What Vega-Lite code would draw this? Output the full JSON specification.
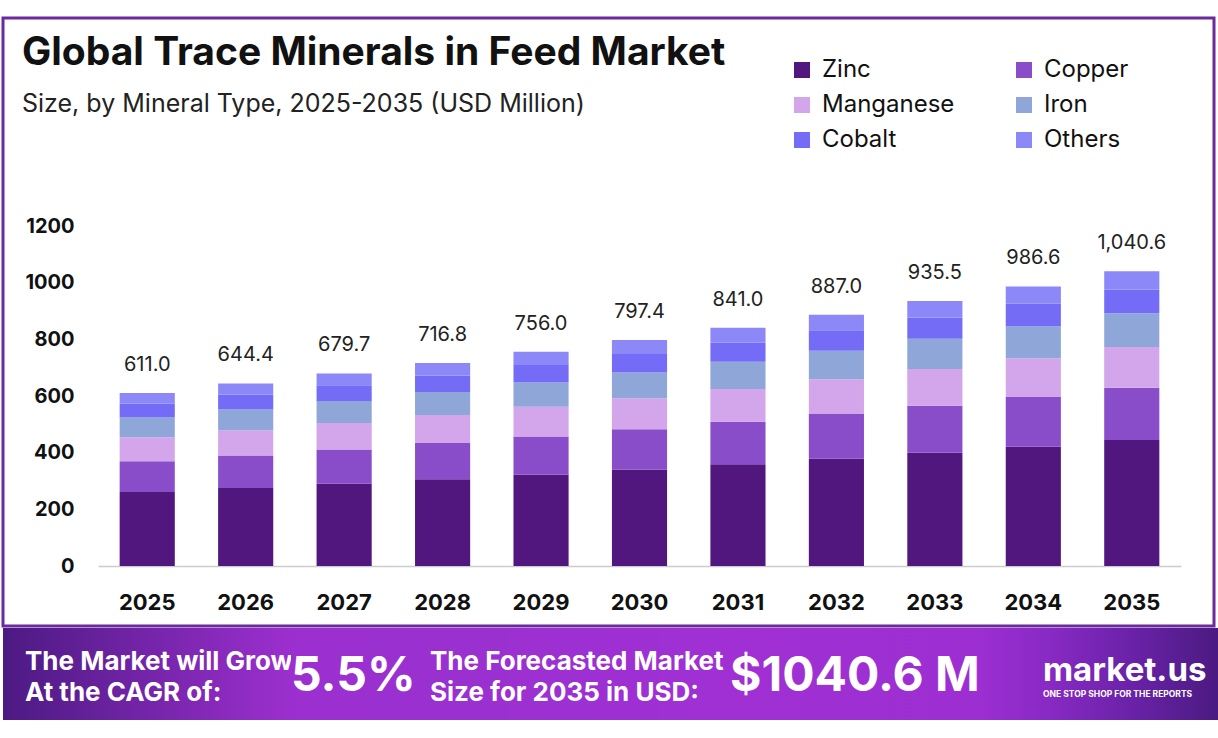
{
  "$schema": "https://vega.github.io/schema/vega-lite/v6.json",
  "background": "white",
  "padding": {"left": 1, "top": 16, "right": 0, "bottom": 0},
  "bounds": "flush",
  "spacing": 2,
  "datasets": {
    "segments": [
      {"year": "2025", "mineral": "Zinc", "value": 260.9},
      {"year": "2025", "mineral": "Copper", "value": 108.8},
      {"year": "2025", "mineral": "Manganese", "value": 84.3},
      {"year": "2025", "mineral": "Iron", "value": 69.7},
      {"year": "2025", "mineral": "Cobalt", "value": 49.5},
      {"year": "2025", "mineral": "Others", "value": 37.8},
      {"year": "2026", "mineral": "Zinc", "value": 275.2},
      {"year": "2026", "mineral": "Copper", "value": 114.7},
      {"year": "2026", "mineral": "Manganese", "value": 88.9},
      {"year": "2026", "mineral": "Iron", "value": 73.5},
      {"year": "2026", "mineral": "Cobalt", "value": 52.2},
      {"year": "2026", "mineral": "Others", "value": 39.9},
      {"year": "2027", "mineral": "Zinc", "value": 290.2},
      {"year": "2027", "mineral": "Copper", "value": 121.0},
      {"year": "2027", "mineral": "Manganese", "value": 93.8},
      {"year": "2027", "mineral": "Iron", "value": 77.5},
      {"year": "2027", "mineral": "Cobalt", "value": 55.1},
      {"year": "2027", "mineral": "Others", "value": 42.1},
      {"year": "2028", "mineral": "Zinc", "value": 306.1},
      {"year": "2028", "mineral": "Copper", "value": 127.6},
      {"year": "2028", "mineral": "Manganese", "value": 98.9},
      {"year": "2028", "mineral": "Iron", "value": 81.7},
      {"year": "2028", "mineral": "Cobalt", "value": 58.1},
      {"year": "2028", "mineral": "Others", "value": 44.4},
      {"year": "2029", "mineral": "Zinc", "value": 322.8},
      {"year": "2029", "mineral": "Copper", "value": 134.6},
      {"year": "2029", "mineral": "Manganese", "value": 104.3},
      {"year": "2029", "mineral": "Iron", "value": 86.2},
      {"year": "2029", "mineral": "Cobalt", "value": 61.2},
      {"year": "2029", "mineral": "Others", "value": 46.9},
      {"year": "2030", "mineral": "Zinc", "value": 340.5},
      {"year": "2030", "mineral": "Copper", "value": 141.9},
      {"year": "2030", "mineral": "Manganese", "value": 110.0},
      {"year": "2030", "mineral": "Iron", "value": 90.9},
      {"year": "2030", "mineral": "Cobalt", "value": 64.6},
      {"year": "2030", "mineral": "Others", "value": 49.5},
      {"year": "2031", "mineral": "Zinc", "value": 359.1},
      {"year": "2031", "mineral": "Copper", "value": 149.7},
      {"year": "2031", "mineral": "Manganese", "value": 116.1},
      {"year": "2031", "mineral": "Iron", "value": 95.9},
      {"year": "2031", "mineral": "Cobalt", "value": 68.1},
      {"year": "2031", "mineral": "Others", "value": 52.1},
      {"year": "2032", "mineral": "Zinc", "value": 378.7},
      {"year": "2032", "mineral": "Copper", "value": 157.9},
      {"year": "2032", "mineral": "Manganese", "value": 122.4},
      {"year": "2032", "mineral": "Iron", "value": 101.1},
      {"year": "2032", "mineral": "Cobalt", "value": 71.8},
      {"year": "2032", "mineral": "Others", "value": 55.1},
      {"year": "2033", "mineral": "Zinc", "value": 399.5},
      {"year": "2033", "mineral": "Copper", "value": 166.5},
      {"year": "2033", "mineral": "Manganese", "value": 129.1},
      {"year": "2033", "mineral": "Iron", "value": 106.6},
      {"year": "2033", "mineral": "Cobalt", "value": 75.8},
      {"year": "2033", "mineral": "Others", "value": 58.0},
      {"year": "2034", "mineral": "Zinc", "value": 421.3},
      {"year": "2034", "mineral": "Copper", "value": 175.6},
      {"year": "2034", "mineral": "Manganese", "value": 136.2},
      {"year": "2034", "mineral": "Iron", "value": 112.5},
      {"year": "2034", "mineral": "Cobalt", "value": 79.9},
      {"year": "2034", "mineral": "Others", "value": 61.1},
      {"year": "2035", "mineral": "Zinc", "value": 444.3},
      {"year": "2035", "mineral": "Copper", "value": 185.2},
      {"year": "2035", "mineral": "Manganese", "value": 143.6},
      {"year": "2035", "mineral": "Iron", "value": 118.6},
      {"year": "2035", "mineral": "Cobalt", "value": 84.3},
      {"year": "2035", "mineral": "Others", "value": 64.6}
    ],
    "totals": [
      {"year": "2025", "total": 611.0},
      {"year": "2026", "total": 644.4},
      {"year": "2027", "total": 679.7},
      {"year": "2028", "total": 716.8},
      {"year": "2029", "total": 756.0},
      {"year": "2030", "total": 797.4},
      {"year": "2031", "total": 841.0},
      {"year": "2032", "total": 887.0},
      {"year": "2033", "total": 935.5},
      {"year": "2034", "total": 986.6},
      {"year": "2035", "total": 1040.6}
    ],
    "footer": [
      {"part": "grow", "line": "grow", "text": ["The Market will Grow", "At the CAGR of:"]},
      {"part": "cagr", "line": "cagr", "text": "5.5%"},
      {"part": "fore", "line": "fore", "text": ["The Forecasted Market", "Size for 2035 in USD:"]},
      {"part": "size", "line": "size", "text": "$1040.6 M"},
      {"part": "logo", "line": "brand", "text": "market.us"},
      {"part": "logo", "line": "tag", "text": "ONE STOP SHOP FOR THE REPORTS"}
    ]
  },
  "vconcat": [
    {
      "width": 1211,
      "height": 608,
      "view": {"stroke": "#6c2b9d", "strokeWidth": 3, "fill": "white"},
      "title": {
        "text": "Global Trace Minerals in Feed Market",
        "subtitle": "Size, by Mineral Type, 2025-2035 (USD Million)",
        "anchor": "start",
        "frame": "group",
        "orient": "top",
        "offset": -99,
        "dx": 19,
        "font": "Inter",
        "fontSize": 39,
        "fontWeight": "bold",
        "color": "#111111",
        "subtitleFont": "Inter",
        "subtitleFontSize": 25,
        "subtitleColor": "#222222",
        "subtitlePadding": 19
      },
      "layer": [
        {
          "data": {"name": "segments"},
          "mark": {"type": "bar"},
          "encoding": {
            "x": {
              "field": "year",
              "type": "ordinal",
              "scale": {"range": [95, 1178], "paddingInner": 0.44, "paddingOuter": 0.22},
              "axis": {
                "title": null,
                "orient": "bottom",
                "offset": -60,
                "labelPadding": 26,
                "ticks": false,
                "labelAngle": 0,
                "domainColor": "#cccccc",
                "domainWidth": 1.5,
                "labelFont": "Inter",
                "labelFontSize": 22,
                "labelFontWeight": "bold",
                "labelColor": "#111111"
              }
            },
            "y": {
              "field": "value",
              "type": "quantitative",
              "stack": "zero",
              "scale": {"domain": [0, 1200], "range": [548, 208], "nice": false},
              "axis": {
                "title": null,
                "values": [0, 200, 400, 600, 800, 1000, 1200],
                "format": "d",
                "grid": false,
                "domain": false,
                "ticks": false,
                "offset": -76,
                "labelPadding": 5,
                "labelFont": "Inter",
                "labelFontSize": 20,
                "labelFontWeight": "bold",
                "labelColor": "#111111"
              }
            },
            "color": {
              "field": "mineral",
              "type": "nominal",
              "scale": {
                "domain": ["Zinc", "Manganese", "Cobalt", "Copper", "Iron", "Others"],
                "range": ["#52177f", "#d3a5ea", "#746cf7", "#8a4dca", "#8fa6d8", "#8d88f8"]
              },
              "legend": {
                "title": null,
                "orient": "none",
                "legendX": 787,
                "legendY": 40,
                "columns": 2,
                "columnPadding": 57,
                "rowPadding": 11,
                "symbolType": "square",
                "symbolSize": 256,
                "symbolStrokeWidth": 0,
                "labelOffset": 8,
                "labelFont": "Inter",
                "labelFontSize": 24,
                "labelColor": "#111111"
              }
            },
            "order": {"field": "value", "type": "quantitative", "sort": "descending"}
          }
        },
        {
          "data": {"name": "totals"},
          "mark": {"type": "text", "baseline": "bottom", "dy": -18, "font": "Inter", "fontSize": 20, "color": "#222222"},
          "encoding": {
            "x": {"field": "year", "type": "ordinal", "axis": {"title": null}},
            "y": {"field": "total", "type": "quantitative", "axis": {"title": null}},
            "text": {"field": "total", "type": "quantitative", "format": ",.1f"}
          }
        }
      ]
    },
    {
      "spacing": 0,
      "bounds": "flush",
      "hconcat": [
        {
          "width": 288,
          "height": 92,
          "view": {"fill": {"gradient": "linear", "x1": 0, "y1": 0, "x2": 1, "y2": 0, "stops": [{"offset": 0, "color": "#4c1a82"}, {"offset": 1, "color": "#9c2fcf"}]}},
          "data": {"name": "footer"},
          "transform": [{"filter": "datum.line === 'grow'"}],
          "mark": {"type": "text", "align": "left", "baseline": "middle", "dy": -12, "font": "Inter", "fontSize": 26, "fontWeight": "bold", "lineHeight": 31, "color": "white"},
          "encoding": {
            "x": {"field": "part", "type": "nominal", "bandPosition": 0, "scale": {"type": "band", "paddingInner": 0, "paddingOuter": 0.09}, "axis": null},
            "text": {"field": "text"}
          }
        },
        {
          "width": 139,
          "height": 92,
          "view": {"fill": {"gradient": "linear", "x1": 0, "y1": 0, "x2": 1, "y2": 0, "stops": [{"offset": 0, "color": "#9c2fcf"}, {"offset": 1, "color": "#9a30d0"}]}},
          "data": {"name": "footer"},
          "transform": [{"filter": "datum.line === 'cagr'"}],
          "mark": {"type": "text", "align": "left", "baseline": "middle", "dy": 3, "font": "Inter", "fontSize": 48, "fontWeight": "bold", "color": "white"},
          "encoding": {
            "x": {"field": "part", "type": "nominal", "bandPosition": 0, "scale": {"type": "band", "paddingInner": 0, "paddingOuter": 0}, "axis": null},
            "text": {"field": "text"}
          }
        },
        {
          "width": 300,
          "height": 92,
          "view": {"fill": {"gradient": "linear", "x1": 0, "y1": 0, "x2": 1, "y2": 0, "stops": [{"offset": 0, "color": "#9a30d0"}, {"offset": 1, "color": "#a030d4"}]}},
          "data": {"name": "footer"},
          "transform": [{"filter": "datum.line === 'fore'"}],
          "mark": {"type": "text", "align": "left", "baseline": "middle", "dy": -12, "font": "Inter", "fontSize": 26, "fontWeight": "bold", "lineHeight": 31, "color": "white"},
          "encoding": {
            "x": {"field": "part", "type": "nominal", "bandPosition": 0, "scale": {"type": "band", "paddingInner": 0, "paddingOuter": 0}, "axis": null},
            "text": {"field": "text"}
          }
        },
        {
          "width": 313,
          "height": 92,
          "view": {"fill": {"gradient": "linear", "x1": 0, "y1": 0, "x2": 1, "y2": 0, "stops": [{"offset": 0, "color": "#a030d4"}, {"offset": 0.8, "color": "#9c2ed2"}, {"offset": 1, "color": "#8a2ac6"}]}},
          "data": {"name": "footer"},
          "transform": [{"filter": "datum.line === 'size'"}],
          "mark": {"type": "text", "align": "left", "baseline": "middle", "dy": 3, "font": "Inter", "fontSize": 48, "fontWeight": "bold", "color": "white"},
          "encoding": {
            "x": {"field": "part", "type": "nominal", "bandPosition": 0, "scale": {"type": "band", "paddingInner": 0, "paddingOuter": 0}, "axis": null},
            "text": {"field": "text"}
          }
        },
        {
          "width": 177,
          "height": 92,
          "view": {"fill": {"gradient": "linear", "x1": 0, "y1": 0, "x2": 1, "y2": 0, "stops": [{"offset": 0, "color": "#8a2ac6"}, {"offset": 0.5, "color": "#6a22a8"}, {"offset": 1, "color": "#4a1a80"}]}},
          "data": {"name": "footer"},
          "layer": [
            {
              "transform": [{"filter": "datum.line === 'brand'"}],
              "mark": {"type": "text", "align": "left", "baseline": "middle", "dy": -3, "font": "Inter", "fontSize": 33, "fontWeight": "bold", "color": "white"},
              "encoding": {
                "x": {"field": "part", "type": "nominal", "bandPosition": 0, "scale": {"type": "band", "paddingInner": 0, "paddingOuter": 0}, "axis": null},
                "text": {"field": "text"}
              }
            },
            {
              "transform": [{"filter": "datum.line === 'tag'"}],
              "mark": {"type": "text", "align": "left", "baseline": "middle", "dy": 20, "font": "Inter", "fontSize": 8.5, "fontWeight": "bold", "color": "white"},
              "encoding": {
                "x": {"field": "part", "type": "nominal", "bandPosition": 0, "scale": {"type": "band", "paddingInner": 0, "paddingOuter": 0}, "axis": null},
                "text": {"field": "text"}
              }
            }
          ]
        }
      ]
    }
  ],
  "config": {
    "font": "Inter",
    "view": {"stroke": null}
  }
}
